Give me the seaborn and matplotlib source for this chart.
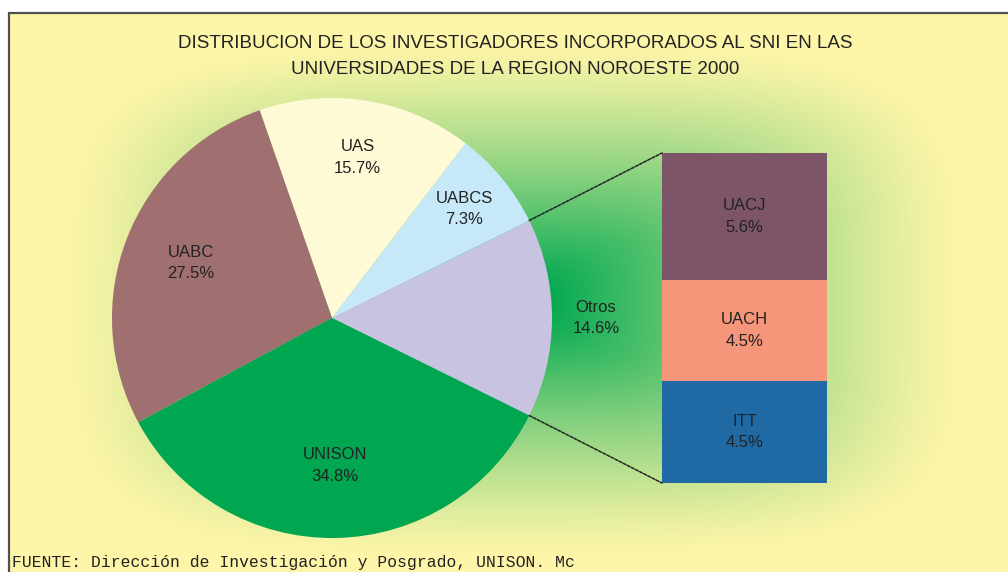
import numpy as np
import matplotlib
matplotlib.use("Agg")
import matplotlib.pyplot as plt
import seaborn as sns
from matplotlib.patches import ConnectionPatch

# ---------------- data ----------------
pie_labels = ["Otros", "UABCS", "UAS", "UABC", "UNISON"]
pie_values = [14.6, 7.3, 15.7, 27.5, 34.8]
bar_labels = ["UACJ", "UACH", "ITT"]          # top to bottom
bar_values = [5.6, 4.5, 4.5]
title_lines = ["DISTRIBUCION DE LOS INVESTIGADORES INCORPORADOS AL SNI EN LAS",
               "UNIVERSIDADES DE LA REGION NOROESTE 2000"]
source_text = "FUENTE: Dirección de Investigación y Posgrado, UNISON. Mc"

# ---------------- style ----------------
pie_colors = ["#c8c3e0", "#c6e8f8", "#fffad6", "#a07070", "#00a650"]
bar_colors = ["#7d5468", "#f5957a", "#1f6aa5"]
text_color = "#222222"

sns.set_style("white")
plt.rcParams["font.family"] = ["Liberation Sans", "DejaVu Sans"]

W, H = 1008, 572
fig = plt.figure(figsize=(W / 100, H / 100), dpi=100)

# background gradient (rounded rectangle, green centre -> yellow edges)
bg = fig.add_axes([0, 0, 1, 1])
yy, xx = np.mgrid[0:H, 0:W] + 0.5
cx, cy, a, b = 515, 300, 450, 255
p = 4
t = ((np.abs(xx - cx) / a) ** p + (np.abs(yy - cy) / b) ** p) ** (1 / p)
s = np.clip((t - 0.06) / 0.94, 0, 1)
f = 1 - (1 - s) ** 1.25
green = np.array([0, 168, 80]) / 255
yellow = np.array([253, 245, 168]) / 255
img = green[None, None, :] * (1 - f[..., None]) + yellow[None, None, :] * f[..., None]
img[:12, :] = 1
img[:, :8] = 1
bg.imshow(img, extent=[0, W, H, 0], aspect="auto", interpolation="bilinear")
bg.set_xlim(0, W)
bg.set_ylim(H, 0)
bg.axis("off")
bg.plot([8, W], [12.8, 12.8], color="#505050", lw=1.6, solid_capstyle="butt")
bg.plot([9, 9], [12, H], color="#505050", lw=1.6, solid_capstyle="butt")

# ---------------- pie ----------------
pcx, pcy, R = 332, 318, 220
pax = fig.add_axes([(pcx - R) / W, (H - pcy - R) / H, 2 * R / W, 2 * R / H])
total = sum(pie_values)
start = -360 * pie_values[0] / total / 2
wedges, _ = pax.pie(pie_values, colors=pie_colors, startangle=start,
                    counterclock=True, radius=1,
                    wedgeprops=dict(linewidth=0))
pax.set_xlim(-1, 1)
pax.set_ylim(-1, 1)
pax.axis("off")

label_r = [1.2, 0.78, 0.74, 0.69, 0.67]
for w, lab, val, r in zip(wedges, pie_labels, pie_values, label_r):
    th = np.deg2rad((w.theta1 + w.theta2) / 2)
    pax.text(r * np.cos(th), r * np.sin(th), f"{lab}\n{val}%",
             ha="center", va="center", fontsize=12, color=text_color,
             linespacing=1.55)

# ---------------- stacked bar (breakdown of Otros) ----------------
bx0, bx1, by0, by1 = 662, 827, 153, 483
bax = fig.add_axes([bx0 / W, (H - by1) / H, (bx1 - bx0) / W, (by1 - by0) / H])
bottom_up_vals = bar_values[::-1]
bottom_up_cols = bar_colors[::-1]
bottom_up_labs = bar_labels[::-1]
tops = np.cumsum(bottom_up_vals)
for top, col in sorted(zip(tops, bottom_up_cols), reverse=True):
    sns.barplot(x=["Otros"], y=[top], color=col, width=1, saturation=1,
                linewidth=0, ax=bax)
bax.set_xlim(-0.5, 0.5)
bax.set_ylim(0, tops[-1])
bax.axis("off")
bax.patch.set_alpha(0)
prev = 0
for top, lab, val in zip(tops, bottom_up_labs, bottom_up_vals):
    bax.text(0, (prev + top) / 2, f"{lab}\n{val}%", ha="center", va="center",
             fontsize=12, color=text_color, linespacing=1.55)
    prev = top

# connector lines
t_top = np.deg2rad(wedges[0].theta2)
t_bot = np.deg2rad(wedges[0].theta1)
for th, yb in [(t_top, tops[-1]), (t_bot, 0)]:
    con = ConnectionPatch(xyA=(np.cos(th), np.sin(th)), coordsA=pax.transData,
                          xyB=(-0.5, yb), coordsB=bax.transData,
                          color="#222222", lw=1.1, linestyle=(0, (2, 1)))
    fig.add_artist(con)

# ---------------- texts ----------------
fig.text(515 / W, 1 - 44 / H, title_lines[0], ha="center", va="center",
         fontsize=13.5, color=text_color)
fig.text(515 / W, 1 - 70 / H, title_lines[1], ha="center", va="center",
         fontsize=13.5, color=text_color)
fig.text(12 / W, 1 - 562 / H, source_text, ha="left", va="center",
         fontsize=11.8, color=text_color, family=["Liberation Mono", "DejaVu Sans Mono"])

fig.savefig("out.png", dpi=100)
